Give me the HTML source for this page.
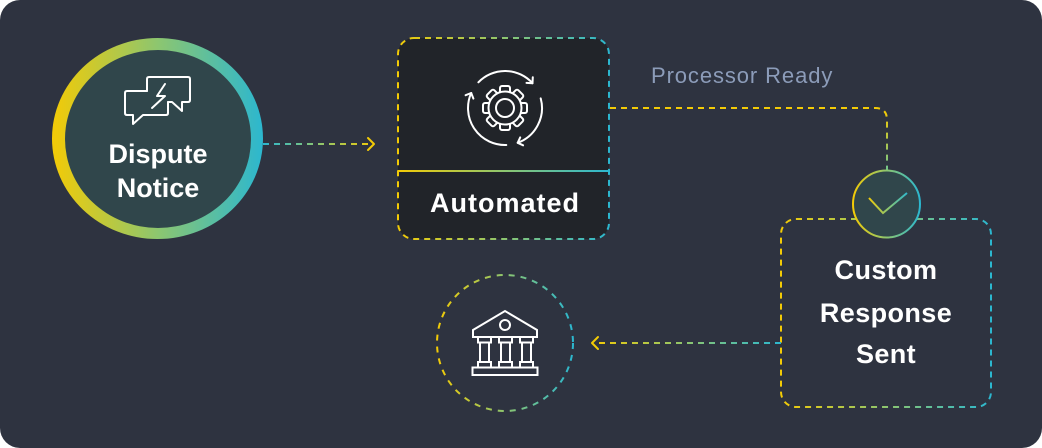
<!DOCTYPE html>
<html><head><meta charset="utf-8"><style>
html,body{margin:0;padding:0;background:#fff;}
svg{display:block;}
</style></head><body>
<svg width="1042" height="448" viewBox="0 0 1042 448" xmlns="http://www.w3.org/2000/svg">
<defs>
<linearGradient id="gH" x1="0" y1="0" x2="1" y2="0">
<stop offset="0" stop-color="#f3cb06"/><stop offset="0.5" stop-color="#8dc66f"/><stop offset="1" stop-color="#2cb7cf"/>
</linearGradient>
<linearGradient id="gA1" gradientUnits="userSpaceOnUse" x1="263" y1="0" x2="375" y2="0">
<stop offset="0" stop-color="#2cb7cf"/><stop offset="0.5" stop-color="#8dc66f"/><stop offset="1" stop-color="#f3cb06"/>
</linearGradient>
<linearGradient id="gA2" gradientUnits="userSpaceOnUse" x1="592" y1="0" x2="781" y2="0">
<stop offset="0" stop-color="#f3cb06"/><stop offset="0.5" stop-color="#8dc66f"/><stop offset="1" stop-color="#2cb7cf"/>
</linearGradient>
<linearGradient id="gV" gradientUnits="userSpaceOnUse" x1="0" y1="112" x2="0" y2="172">
<stop offset="0" stop-color="#f3cb06"/><stop offset="1" stop-color="#6cc492"/>
</linearGradient>
<linearGradient id="gDiv" gradientUnits="userSpaceOnUse" x1="398" y1="0" x2="609" y2="0">
<stop offset="0" stop-color="#f3cb06"/><stop offset="0.5" stop-color="#8dc66f"/><stop offset="1" stop-color="#2cb7cf"/>
</linearGradient>
<linearGradient id="gChk" gradientUnits="userSpaceOnUse" x1="868" y1="0" x2="908" y2="0">
<stop offset="0" stop-color="#f3cb06"/><stop offset="0.5" stop-color="#8dc66f"/><stop offset="1" stop-color="#2cb7cf"/>
</linearGradient>
</defs>

<!-- background -->
<rect x="0" y="0" width="1042" height="448" rx="20" ry="20" fill="#2e3340"/>

<!-- Dispute Notice -->
<ellipse cx="157.5" cy="138.5" rx="105.5" ry="100.5" fill="url(#gH)"/>
<ellipse cx="158" cy="139" rx="93" ry="89" fill="#30464b"/>
<g fill="none" stroke="#fff" stroke-width="2" stroke-linejoin="round" stroke-linecap="round">
<path d="M147,91 V79 Q147,77 149,77 H188 Q190,77 190,79 V100 Q190,102 188,102 H182 V111 L172,102 H168"/>
<path d="M147,91 H127 Q125,91 125,93 V113 Q125,115 127,115 H133 V124 L143,115 H166 Q168,115 168,113 V102"/>
<path d="M165,84 L157,96 H165 L152,108"/>
</g>
<g font-family="Liberation Sans, sans-serif" font-weight="bold" font-size="27" fill="#fff" text-anchor="middle">
<text x="158" y="163">Dispute</text>
<text x="158" y="197">Notice</text>
</g>

<!-- arrow 1 -->
<line x1="263" y1="144" x2="371" y2="144" stroke="url(#gA1)" stroke-width="2" stroke-dasharray="6 5"/>
<path d="M368,138 L374,144 L368,150" fill="none" stroke="#f3cb06" stroke-width="2" stroke-linecap="round" stroke-linejoin="round"/>

<!-- Automated box -->
<rect x="398" y="38" width="211" height="201" rx="16" ry="16" fill="#212429" stroke="url(#gH)" stroke-width="2" stroke-dasharray="6 5"/>
<line x1="398" y1="171" x2="609" y2="171" stroke="url(#gDiv)" stroke-width="2"/>
<!-- gear icon -->
<g fill="none" stroke="#fff" stroke-width="2" stroke-linecap="round" stroke-linejoin="round">
<path d="M506.3,145 A37,37 0 0 1 471.2,93"/>
<path d="M465.6,95.2 L471.2,93 L473.4,98.6"/>
<path d="M478.4,82.3 A37,37 0 0 1 532.5,83.2"/>
<path d="M532.8,77.2 L532.5,83.2 L526.5,82.9"/>
<path d="M540.7,98.4 A37,37 0 0 1 517.7,142.8"/>
<path d="M523.1,145.3 L517.7,142.8 L520.2,137.4"/>
</g>
<g transform="translate(505,108)" stroke="#fff" stroke-width="2" fill="#212429">
<rect x="-5" y="-22" width="10" height="9" rx="2" transform="rotate(0)"/>
<rect x="-5" y="-22" width="10" height="9" rx="2" transform="rotate(45)"/>
<rect x="-5" y="-22" width="10" height="9" rx="2" transform="rotate(90)"/>
<rect x="-5" y="-22" width="10" height="9" rx="2" transform="rotate(135)"/>
<rect x="-5" y="-22" width="10" height="9" rx="2" transform="rotate(180)"/>
<rect x="-5" y="-22" width="10" height="9" rx="2" transform="rotate(225)"/>
<rect x="-5" y="-22" width="10" height="9" rx="2" transform="rotate(270)"/>
<rect x="-5" y="-22" width="10" height="9" rx="2" transform="rotate(315)"/>
<circle cx="0" cy="0" r="16.5"/>
<circle cx="0" cy="0" r="9" fill="none"/>
</g>
<text x="505" y="212" font-family="Liberation Sans, sans-serif" font-weight="bold" font-size="27" letter-spacing="1" fill="#fff" text-anchor="middle">Automated</text>

<!-- Processor Ready -->
<text x="651" y="83" font-family="Liberation Sans, sans-serif" font-size="22" letter-spacing="0.9" fill="#8c9cb9">Processor Ready</text>

<!-- connector to check -->
<path d="M610,108 H875 Q887,108 887,120 V171" fill="none" stroke="url(#gV)" stroke-width="2" stroke-dasharray="6 5"/>

<!-- Custom Response box -->
<rect x="781" y="219" width="210" height="188" rx="15" ry="15" fill="none" stroke="url(#gH)" stroke-width="2" stroke-dasharray="6 5"/>
<g font-family="Liberation Sans, sans-serif" font-weight="bold" font-size="27" letter-spacing="0.4" fill="#fff" text-anchor="middle">
<text x="886" y="279">Custom</text>
<text x="886" y="322">Response</text>
<text x="886" y="363">Sent</text>
</g>

<!-- check circle -->
<circle cx="886.5" cy="204" r="33.5" fill="#30464b" stroke="url(#gH)" stroke-width="2"/>
<path d="M869,198 L883,213 L907,193" fill="none" stroke="url(#gChk)" stroke-width="2"/>

<!-- arrow 2 -->
<line x1="781" y1="343" x2="595" y2="343" stroke="url(#gA2)" stroke-width="2" stroke-dasharray="6 5"/>
<path d="M598,337 L592,343 L598,349" fill="none" stroke="#f3cb06" stroke-width="2" stroke-linecap="round" stroke-linejoin="round"/>

<!-- bank circle -->
<circle cx="505" cy="343" r="68" fill="none" stroke="url(#gH)" stroke-width="2" stroke-dasharray="6 6"/>
<g fill="none" stroke="#fff" stroke-width="2" stroke-linejoin="miter">
<path d="M473,330 L505,311 L537,330 V337 H473 Z"/>
<circle cx="505" cy="325" r="5"/>
<rect x="478" y="337" width="13" height="5.5"/>
<rect x="499" y="337" width="13" height="5.5"/>
<rect x="520" y="337" width="13" height="5.5"/>
<rect x="480" y="342.5" width="9" height="19.5"/>
<rect x="501" y="342.5" width="9" height="19.5"/>
<rect x="522" y="342.5" width="9" height="19.5"/>
<rect x="478" y="362" width="13" height="5.5"/>
<rect x="499" y="362" width="13" height="5.5"/>
<rect x="520" y="362" width="13" height="5.5"/>
<rect x="472.5" y="367.5" width="65" height="7.5"/>
</g>
</svg>
</body></html>
